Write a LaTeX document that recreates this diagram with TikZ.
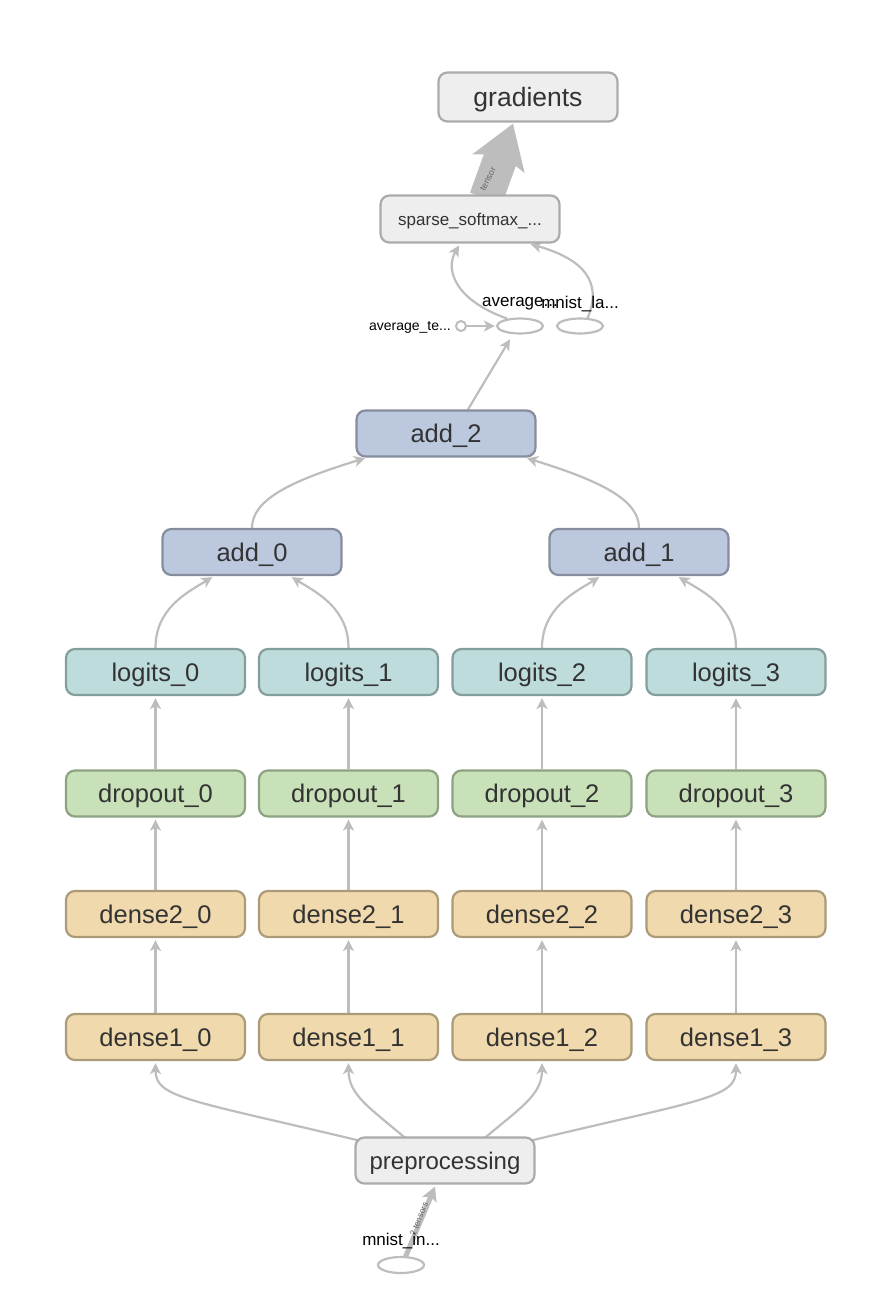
\documentclass[tikz,border=0pt]{standalone}
\usepackage{fontspec}
\setmainfont{Liberation Sans}
\usetikzlibrary{arrows.meta,shapes.geometric,calc}
\definecolor{txt}{HTML}{333333}
\definecolor{edgec}{HTML}{BDBDBD}
\definecolor{lblc}{HTML}{666666}
\definecolor{gfill}{HTML}{EEEEEE}
\definecolor{gdraw}{HTML}{ABABAB}
\definecolor{afill}{HTML}{BCC8DE}
\definecolor{adraw}{HTML}{868D9E}
\definecolor{lfill}{HTML}{BEDCDC}
\definecolor{ldraw}{HTML}{849E9D}
\definecolor{pfill}{HTML}{C9E1B8}
\definecolor{pdraw}{HTML}{8DA283}
\definecolor{dfill}{HTML}{F0D9AC}
\definecolor{ddraw}{HTML}{AB9B79}
\pgfdeclarelayer{bg}
\pgfsetlayers{bg,main}
\begin{document}
\begin{tikzpicture}[x=1pt,y=-1pt,
  box/.style={rounded corners=9pt, line width=2.2pt, minimum width=179pt, minimum height=46pt, inner sep=0pt, text=txt, font=\fontsize{25.5}{28}\selectfont, text height=20pt, text depth=2pt},
  greybox/.style={box, fill=gfill, draw=gdraw},
  addbox/.style={box, fill=afill, draw=adraw},
  logbox/.style={box, fill=lfill, draw=ldraw},
  dropbox/.style={box, fill=pfill, draw=pdraw},
  densebox/.style={box, fill=dfill, draw=ddraw},
  oval/.style={ellipse, draw=edgec, fill=white, line width=2.2pt, minimum width=46pt, minimum height=15pt, inner sep=0pt},
  smalltxt/.style={text=black, inner sep=0pt, font=\fontsize{17}{19}\selectfont},
  edge/.style={draw=edgec, line width=2.2pt, shorten >=2pt, -{Stealth[length=11pt,width=11pt,inset=3pt]}},
]
\useasboundingbox (0,0) rectangle (880,1312);

% top
\node[greybox, minimum height=49pt, font=\fontsize{26.5}{30}\selectfont, text height=21pt, text depth=2pt] (grad) at (528,97) {gradients};
\node[greybox, minimum height=47pt, font=\fontsize{17}{20}\selectfont, text height=13pt, text depth=1pt] (sparse) at (470,219) {sparse\_softmax\_...};

\node[oval] (avg) at (520,326) {};
\node[oval] (mla) at (580,326) {};
\node[circle, draw=edgec, fill=white, line width=2pt, minimum size=10pt, inner sep=0pt] (avgte) at (461,326) {};
\node[smalltxt, anchor=east, font=\fontsize{14}{16}\selectfont] (avgtel) at (451,327) {average\_te...};
\node[smalltxt] (avgl) at (520,304) {average...};
\node[smalltxt] (mlal) at (580,304) {mnist\_la...};

% adds
\node[addbox] (a2) at (446,433.5) {add\_2};
\node[addbox] (a0) at (252,552) {add\_0};
\node[addbox] (a1) at (639,552) {add\_1};

% columns
\foreach \i/\x in {0/155.5,1/348.5,2/542,3/736}{
  \node[logbox] (l\i) at (\x,672) {logits\_\i};
  \node[dropbox] (p\i) at (\x,793.5) {dropout\_\i};
  \node[densebox] (dd\i) at (\x,914) {dense2\_\i};
  \node[densebox] (ds\i) at (\x,1037) {dense1\_\i};
}

\node[greybox, font=\fontsize{24}{28}\selectfont, text height=19pt, text depth=2pt] (pre) at (445,1160.5) {preprocessing};
\node[oval, minimum height=16pt] (mni) at (401,1265) {};
\node[smalltxt] (mnil) at (401,1241) {mnist\_in...};

\begin{pgfonlayer}{bg}
  % thick tensor arrow
  \draw[draw=edgec, line width=34pt, -{Stealth[length=42pt,width=54pt,inset=9pt]}]
    ($(sparse.north)+(16,4)$) -- ($(grad.south)+(-15,1)$);
  % mnist input to preprocessing
  \draw[draw=edgec, line width=5pt, -{Stealth[length=14pt,width=15pt,inset=3pt]}]
    ($(mni.north)+(4,2)$) -- ($(pre.south)+(-10,2)$);

  % vertical chains
  \foreach \i in {0,1,2,3}{
    \draw[edge] (ds\i) -- (dd\i);
    \draw[edge] (dd\i) -- (p\i);
    \draw[edge] (p\i) -- (l\i);
  }
  % preprocessing fan-out
  \draw[edge] ($(pre.north west)+(4,4)$) .. controls (190,1100) and (155.5,1098) .. (ds0.south);
  \draw[edge] ($(pre.north)+(-38,3)$) .. controls (370,1108) and (348.5,1095) .. (ds1.south);
  \draw[edge] ($(pre.north)+(38,3)$) .. controls (520,1108) and (542,1095) .. (ds2.south);
  \draw[edge] ($(pre.north east)+(-4,4)$) .. controls (700,1100) and (736,1098) .. (ds3.south);

  % logits to adds
  \draw[edge] (l0.north) .. controls (155.5,608) and (188,592) .. ($(a0.south)+(-38,0)$);
  \draw[edge] (l1.north) .. controls (348.5,608) and (316,592) .. ($(a0.south)+(38,0)$);
  \draw[edge] (l2.north) .. controls (542,608) and (575,592) .. ($(a1.south)+(-38,0)$);
  \draw[edge] (l3.north) .. controls (736,608) and (704,592) .. ($(a1.south)+(38,0)$);

  % adds to add_2
  \draw[edge] (a0.north) .. controls (252,500) and (290,481) .. ($(a2.south)+(-79,0)$);
  \draw[edge] (a1.north) .. controls (639,500) and (601,481) .. ($(a2.south)+(79,0)$);

  % add_2 to average
  \draw[edge] ($(a2.north)+(22,0)$) -- ($(avg.south)+(-9,3)$);
  % average_te to average
  \draw[edge, shorten >=1pt] (avgte) -- (avg);
  % average / mnist labels to sparse
  \draw[edge] (avg.150) .. controls (455,300) and (445,270) .. ($(sparse.south)+(-10,0)$);
  \draw[edge] ($(mla.north)+(7,2)$) .. controls (600,290) and (594,262) .. ($(sparse.south east)+(-32,0)$);
\end{pgfonlayer}

% labels on thick arrows
\node[text=lblc, inner sep=0pt, rotate=63, font=\fontsize{9}{10}\selectfont] (tl) at (488,179) {tensor};
\node[text=lblc, inner sep=0pt, rotate=68, font=\fontsize{8.5}{10}\selectfont] (tl2) at (419,1219) {2 tensors};
\end{tikzpicture}
\end{document}
